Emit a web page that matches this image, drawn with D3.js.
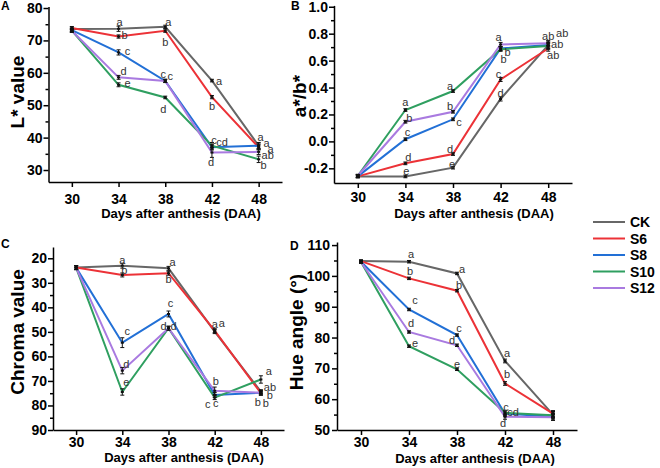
<!DOCTYPE html>
<html lang="en">
<head>
<meta charset="UTF-8" />
<title>Colour changes after anthesis</title>
<style>
  body { margin: 0; background: #fff; font-family: "Liberation Sans", Arial, sans-serif; }
  svg { display: block; }
  .axis path, .axis line { stroke: #000; stroke-width: 1.5; }
  .axis .tick text { font-family: "Liberation Sans", Arial, sans-serif; font-weight: bold; font-size: 14px; fill: #000; }
  .sig { font-size: 11px; fill: #333; }
  .ytitle { font-size: 19px; font-weight: bold; }
  .xtitle { font-size: 13px; font-weight: bold; }
</style>
</head>
<body>
<svg id="chart" width="660" height="468"></svg>
<script src="https://d3js.org/d3.v7.min.js"></script>
<script>
const days = ["30", "34", "38", "42", "48"];
const groups = ["CK", "S6", "S8", "S10", "S12"];
const colors = ["#676767", "#ec3237", "#2270d6", "#2f9f60", "#a97ae0"];

// one row per group (CK, S6, S8, S10, S12), one value per day
const lValue = [
  [73.5, 73.6, 74.2, 57.6, 37.5],
  [73.8, 71.2, 73.0, 52.5, 37.0],
  [73.2, 66.3, 57.5, 37.0, 37.5],
  [73.0, 56.3, 52.4, 37.5, 33.3],
  [73.0, 58.6, 57.5, 35.4, 35.6]
];
const lErr = [
  [0.6, 0.8, 0.5, 0.4, 1.0],
  [0.5, 0.5, 0.5, 0.5, 0.8],
  [0.5, 0.8, 0.5, 0.8, 0.8],
  [0.5, 0.6, 0.4, 1.0, 1.0],
  [0.5, 0.6, 0.5, 1.5, 0.8]
];
const lSig = [
  ["", "a", "a", "a", "a"],
  ["", "b", "b", "b", "a"],
  ["", "c", "c", "c", "a"],
  ["", "e", "d", "cd", "b"],
  ["", "d", "c", "d", "ab"]
];

const abRatio = [
  [-0.26, -0.26, -0.195, 0.315, 0.715],
  [-0.26, -0.163, -0.094, 0.46, 0.69],
  [-0.26, 0.016, 0.164, 0.69, 0.715],
  [-0.255, 0.233, 0.374, 0.684, 0.708],
  [-0.255, 0.146, 0.22, 0.72, 0.728]
];
const abErr = [
  [0.01, 0.01, 0.01, 0.015, 0.02],
  [0.01, 0.01, 0.01, 0.015, 0.02],
  [0.01, 0.01, 0.01, 0.015, 0.03],
  [0.01, 0.01, 0.01, 0.015, 0.02],
  [0.01, 0.01, 0.01, 0.015, 0.02]
];
const abSig = [
  ["", "e", "e", "d", "ab"],
  ["", "d", "d", "c", "ab"],
  ["", "c", "c", "b", "ab"],
  ["", "a", "a", "b", ""],
  ["", "b", "b", "a", "ab"]
];

const chroma = [
  [23.8, 23.0, 24.1, 49.9, 74.4],
  [23.8, 26.8, 26.1, 49.5, 75.0],
  [23.8, 54.4, 42.7, 75.7, 74.8],
  [23.8, 74.5, 48.5, 76.8, 69.4],
  [23.8, 65.8, 48.5, 74.0, 74.8]
];
const chromaErr = [
  [0.8, 1.0, 0.8, 0.8, 0.8],
  [0.8, 0.8, 0.8, 0.8, 0.8],
  [0.8, 2.0, 1.2, 1.0, 1.0],
  [0.8, 1.3, 0.8, 0.8, 1.5],
  [0.8, 1.3, 0.8, 1.5, 0.8]
];
const chromaSig = [
  ["", "a", "a", "a", "ab"],
  ["", "b", "b", "a", "b"],
  ["", "c", "c", "c", "b"],
  ["", "e", "d", "c", "a"],
  ["", "d", "d", "b", "b"]
];

const hue = [
  [104.8, 104.6, 100.8, 72.4, 55.0],
  [104.8, 99.2, 95.2, 65.1, 55.3],
  [104.6, 89.1, 80.8, 55.3, 54.3],
  [104.5, 77.2, 69.7, 55.6, 54.8],
  [104.5, 81.8, 77.5, 54.3, 54.1]
];
const hueErr = [
  [0.4, 0.4, 0.4, 0.6, 1.0],
  [0.4, 0.4, 0.4, 0.6, 1.0],
  [0.4, 0.4, 0.4, 0.8, 1.0],
  [0.4, 0.4, 0.4, 0.8, 1.0],
  [0.4, 0.4, 0.4, 0.8, 1.0]
];
const hueSig = [
  ["", "a", "a", "a", ""],
  ["", "b", "b", "b", ""],
  ["", "c", "c", "c", ""],
  ["", "e", "e", "cd", ""],
  ["", "d", "d", "d", ""]
];

// where each letter sits relative to its point (px)
const lLabelPos = [
  [null, [1, -7], [3, -5], [7, 0], [2, -9]],
  [null, [6, -2], [0, 11], [0, 9], [8, -4]],
  [null, [9, -1], [-2, -7], [2, -7], [12, 3]],
  [null, [9, -2], [-2, 12], [10, -4], [5, 6]],
  [null, [5, -6], [5, -5], [-1, 9], [9, 3]]
];
const abLabelPos = [
  [null, [1, -5], [-1, -4], [0, -6], [14, -12]],
  [null, [3, -6], [-3, -5], [-2, -5], [5, 7]],
  [null, [2, -7], [6, 3], [3, 11], [9, -1]],
  [null, [0, -8], [-3, -5], [7, 3], null],
  [null, [4, -4], [-3, -6], [-2, -7], [0, -7]]
];
const chromaLabelPos = [
  [null, [0, -6], [4, -6], [0, -8], [9, -5]],
  [null, [2, -5], [0, 6], [7, -8], [-3, 9]],
  [null, [5, -12], [2, -11], [1, 8], [9, 2]],
  [null, [4, -10], [-5, -2], [-7, 6], [8, -8]],
  [null, [4, -7], [5, -2], [1, -10], [5, 10]]
];
const hueLabelPos = [
  [null, [2, -8], [5, -4], [2, -8], null],
  [null, [1, -7], [2, -6], [2, -9], null],
  [null, [6, -9], [2, -7], [1, -7], null],
  [null, [6, -3], [0, -5], [8, -1], null],
  [null, [2, -9], [-5, -5], [-2, 6], null]
];

const svg = d3.select("#chart");

const panels = [
  { letter: "A", lx: 1, ly: 10, title: "L* value", tx: 17, ty: 92,
    values: lValue, err: lErr, sig: lSig, pos: lLabelPos,
    xRange: [48.5, 282], axisY: 182, xPad: 7, xTitle: [181, 218],
    yDomain: [26.3, 80.5], yRange: [182, 6.4], axisX: 48.5, yPad: 1,
    ticks: [30, 40, 50, 60, 70, 80], minor: [35, 45, 55, 65, 75], fmt: d3.format("d") },
  { letter: "B", lx: 291, ly: 10, title: "a*/b*", tx: 299, ty: 96,
    values: abRatio, err: abErr, sig: abSig, pos: abLabelPos,
    xRange: [334, 572], axisY: 183, xPad: 4, xTitle: [474, 218],
    yDomain: [-0.309, 1.01], yRange: [183, 5.4], axisX: 334, yPad: 1,
    ticks: [-0.2, 0, 0.2, 0.4, 0.6, 0.8, 1.0], minor: [-0.1, 0.1, 0.3, 0.5, 0.7, 0.9],
    fmt: d => d.toFixed(1) },
  { letter: "C", lx: 1, ly: 248, title: "Chroma value", tx: 17, ty: 332,
    values: chroma, err: chromaErr, sig: chromaSig, pos: chromaLabelPos,
    xRange: [53, 284], axisY: 430, xPad: 2, xTitle: [184, 462],
    yDomain: [15.4, 90], yRange: [247, 430], axisX: 53, yPad: 1,
    ticks: [20, 30, 40, 50, 60, 70, 80, 90], minor: [25, 35, 45, 55, 65, 75, 85], fmt: d3.format("d") },
  { letter: "D", lx: 290, ly: 250, title: "Hue angle (°)", tx: 296, ty: 332,
    values: hue, err: hueErr, sig: hueSig, pos: hueLabelPos,
    xRange: [337, 577], axisY: 430, xPad: 2, xTitle: [475, 463],
    yDomain: [50, 111], yRange: [430, 242], axisX: 337, yPad: 2,
    ticks: [50, 60, 70, 80, 90, 100, 110], minor: [55, 65, 75, 85, 95, 105], fmt: d3.format("d") }
];

panels.forEach(p => {
  const g = svg.append("g");
  const x = d3.scalePoint().domain(days).range(p.xRange).padding(0.5);
  const y = d3.scaleLinear().domain(p.yDomain).range(p.yRange);

  g.append("g")
    .attr("class", "axis")
    .attr("transform", `translate(0,${p.axisY})`)
    .call(d3.axisBottom(x).tickSize(5).tickSizeOuter(0).tickPadding(p.xPad));

  g.append("g")
    .attr("class", "axis")
    .attr("transform", `translate(${p.axisX},0)`)
    .call(d3.axisLeft(y).tickValues(p.ticks).tickFormat(p.fmt)
      .tickSize(5).tickSizeOuter(0).tickPadding(p.yPad));

  g.append("g")
    .attr("class", "axis")
    .attr("transform", `translate(${p.axisX},0)`)
    .call(d3.axisLeft(y).tickValues(p.minor).tickFormat("").tickSize(3))
    .select(".domain").remove();

  const line = d3.line()
    .x((d, i) => x(days[i]))
    .y(d => y(d));

  p.values.forEach((vals, gi) => {
    g.append("path")
      .datum(vals)
      .attr("fill", "none")
      .attr("stroke", colors[gi])
      .attr("stroke-width", 2)
      .attr("d", line);
  });

  // error bars
  p.values.forEach((vals, gi) => {
    vals.forEach((v, i) => {
      const cx = x(days[i]);
      const e = p.err[gi][i];
      const y1 = y(v - e), y2 = y(v + e);
      g.append("line").attr("x1", cx).attr("x2", cx).attr("y1", y1).attr("y2", y2)
        .attr("stroke", "#111").attr("stroke-width", 1);
      [y1, y2].forEach(yy => {
        g.append("line").attr("x1", cx - 2).attr("x2", cx + 2).attr("y1", yy).attr("y2", yy)
          .attr("stroke", "#111").attr("stroke-width", 1);
      });
      g.append("rect").attr("x", cx - 1.5).attr("y", y(v) - 1).attr("width", 3).attr("height", 2)
        .attr("fill", "#111");
    });
  });

  // significance letters
  p.sig.forEach((row, gi) => {
    row.forEach((s, i) => {
      const off = p.pos[gi][i];
      if (!s || !off) return;
      g.append("text")
        .attr("class", "sig")
        .attr("x", x(days[i]) + off[0])
        .attr("y", y(p.values[gi][i]) + off[1])
        .attr("text-anchor", "middle")
        .attr("dominant-baseline", "central")
        .text(s);
    });
  });

  g.append("text")
    .attr("class", "xtitle")
    .attr("x", p.xTitle[0])
    .attr("y", p.xTitle[1])
    .attr("text-anchor", "middle")
    .text("Days after anthesis (DAA)");

  g.append("text")
    .attr("class", "ytitle")
    .attr("transform", `translate(${p.tx},${p.ty}) rotate(-90)`)
    .attr("text-anchor", "middle")
    .attr("dominant-baseline", "central")
    .text(p.title);

  g.append("text")
    .attr("x", p.lx)
    .attr("y", p.ly)
    .attr("font-size", 12)
    .attr("font-weight", "bold")
    .text(p.letter);
});

// legend
const legend = svg.append("g").attr("transform", "translate(593,222)");
groups.forEach((name, i) => {
  const row = legend.append("g").attr("transform", `translate(0,${i * 16.5})`);
  row.append("line").attr("x1", 0).attr("x2", 32).attr("stroke", colors[i]).attr("stroke-width", 2);
  row.append("text")
    .attr("x", 37)
    .attr("dominant-baseline", "central")
    .attr("font-size", 14)
    .attr("font-weight", "bold")
    .text(name);
});
</script>
</body>
</html>
